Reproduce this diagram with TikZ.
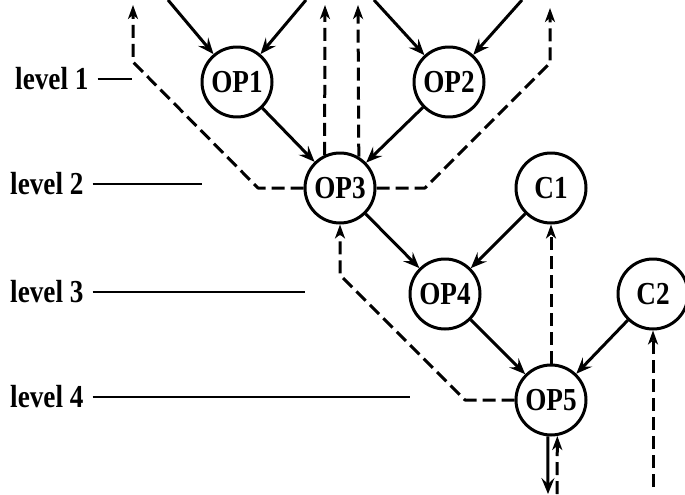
\documentclass[tikz,border=0pt]{standalone}
\usepackage{fontspec}
\setmainfont{Liberation Serif}[FakeStretch=0.85]
\usetikzlibrary{arrows.meta}

\tikzset{
  op/.style={circle, draw, line width=3pt, minimum size=70pt, inner sep=0pt},
  flow/.style={line width=3pt, -{Stealth[length=16pt,width=13pt,inset=6pt]}},
  backflow/.style={line width=3pt, dash pattern=on 13pt off 6pt,
    -{Stealth[length=14pt,width=10pt,inset=4pt]}},
  levelname/.style={anchor=west, inner sep=0pt},
  levelline/.style={line width=2.4pt, shorten <=9pt}
}

\begin{document}
\begin{tikzpicture}[
  font={\bfseries\fontsize{32}{36}\selectfont},
  x=1pt, y=-1pt, % pixel size, y down
  line join=round
]
  \useasboundingbox (0,0) rectangle (685,495);

  % ---- operator and constant nodes ----
  \foreach \nd/\x/\y in {OP1/237/82, OP2/449/82, OP3/340/188, C1/551/188,
                         OP4/445/294, C2/653/294, OP5/551/400} {
    \node[op] (\nd) at (\x,\y) {\nd};
  }

  % ---- level labels, x left, line to the right ----
  \foreach \n/\x/\y/\e in {1/15/79/132, 2/10/184/202, 3/10/292/305, 4/10/397/410} {
    \node[levelname] (lv\n) at (\x,\y) {level \n};
    \coordinate (lv\n e) at (\e,\y);
    \draw[levelline] (lv\n) -- (lv\n e);
  }

  % ---- solid flow ----
  \coordinate (in1a) at (168,0);
  \coordinate (in1b) at (306,0);
  \coordinate (in2a) at (374,0);
  \coordinate (in2b) at (522,0);
  \coordinate (out5) at (548,494);
  \foreach \from/\to in {in1a/OP1, in1b/OP1, in2a/OP2, in2b/OP2,
                         OP1/OP3, OP2/OP3, OP3/OP4, C1/OP4, OP4/OP5, C2/OP5} {
    \draw[flow] (\from) -- (\to);
  }
  \draw[flow] (OP5.265) -- (out5);

  % ---- dashed flow ----
  % straight up out of OP3
  \coordinate (up3a) at (325,5);
  \coordinate (up3b) at (358,5);
  \draw[backflow] (OP3.115) -- (up3a);
  \draw[backflow] (OP3.59) -- (up3b);

  % bent ones out of OP3, left and right
  \coordinate (lft1) at (258,188);
  \coordinate (lft2) at (133,62);
  \coordinate (lft3) at (133,5);
  \draw[backflow] (OP3.west) -- (lft1) -- (lft2) -- (lft3);
  \coordinate (rgt1) at (425,188);
  \coordinate (rgt2) at (550,63);
  \coordinate (rgt3) at (550,8);
  \draw[backflow] (OP3.east) -- (rgt1) -- (rgt2) -- (rgt3);

  % from OP5 back to OP3 and C1
  \coordinate (bk1) at (465,400);
  \coordinate (bk2) at (340,275);
  \draw[backflow] (OP5.west) -- (bk1) -- (bk2) -- (OP3.south);
  \draw[backflow] (OP5) -- (C1);

  % from below
  \coordinate (in5) at (557,494);
  \coordinate (inC2) at (653,487);
  \draw[backflow] (in5) -- (OP5.280);
  \draw[backflow] (inC2) -- (C2);

\end{tikzpicture}
\end{document}
